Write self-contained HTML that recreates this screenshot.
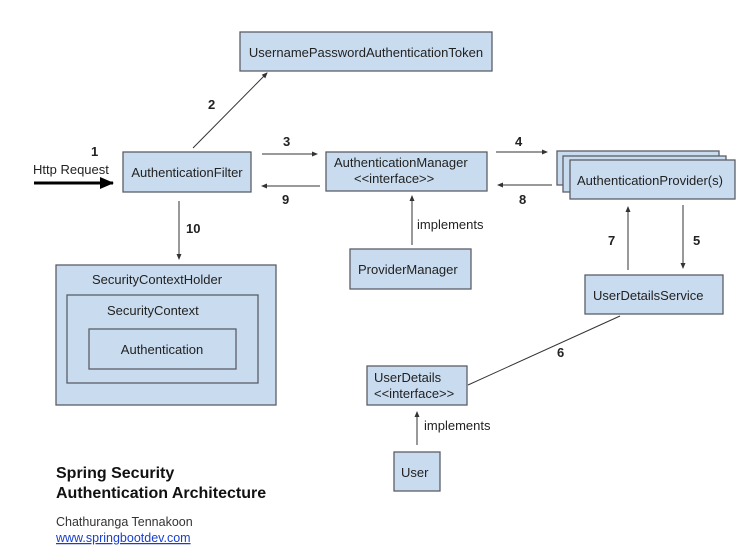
<!DOCTYPE html>
<html><head><meta charset="utf-8"><style>
body{margin:0;background:#fff;width:753px;height:555px;overflow:hidden}
svg{display:block}
text{font-family:"Liberation Sans",Arial,sans-serif;font-size:13px;fill:#222}
.b{fill:#c9dcef;stroke:#5a5f66;stroke-width:1.3}
.n{font-weight:bold;font-size:13px}
</style></head><body>
<svg width="753" height="555" viewBox="0 0 753 555">
<defs>
<marker id="a" markerWidth="6" markerHeight="6" refX="5" refY="3" orient="auto" markerUnits="userSpaceOnUse"><path d="M0,0.5 L6,3 L0,5.5z" fill="#333"/></marker>
<marker id="t" markerWidth="14" markerHeight="12" refX="13" refY="6" orient="auto" markerUnits="userSpaceOnUse"><path d="M0,0 L14,6 L0,12z" fill="#000"/></marker>
</defs>
<rect class="b" x="240" y="32" width="252" height="39"/>
<text x="366" y="57" text-anchor="middle">UsernamePasswordAuthenticationToken</text>
<rect class="b" x="123" y="152" width="128" height="40"/>
<text x="187" y="177" text-anchor="middle">AuthenticationFilter</text>
<rect class="b" x="326" y="152" width="161" height="39"/>
<text x="334" y="167">AuthenticationManager</text>
<text x="354" y="183">&lt;&lt;interface&gt;&gt;</text>
<rect class="b" x="557" y="151" width="162" height="34"/>
<rect class="b" x="563" y="156" width="163" height="36"/>
<rect class="b" x="570" y="160" width="165" height="39"/>
<text x="577" y="185">AuthenticationProvider(s)</text>
<rect class="b" x="350" y="249" width="121" height="40"/>
<text x="358" y="274">ProviderManager</text>
<rect class="b" x="585" y="275" width="138" height="39"/>
<text x="593" y="300">UserDetailsService</text>
<rect class="b" x="56" y="265" width="220" height="140"/>
<text x="92" y="284">SecurityContextHolder</text>
<rect class="b" x="67" y="295" width="191" height="88"/>
<text x="107" y="315">SecurityContext</text>
<rect class="b" x="89" y="329" width="147" height="40"/>
<text x="162" y="354" text-anchor="middle">Authentication</text>
<rect class="b" x="367" y="366" width="100" height="39"/>
<text x="374" y="382">UserDetails</text>
<text x="374" y="398">&lt;&lt;interface&gt;&gt;</text>
<rect class="b" x="394" y="452" width="46" height="39"/>
<text x="401" y="477">User</text>
<g stroke="#333" stroke-width="1" fill="none">
<line x1="193" y1="148" x2="267" y2="73" marker-end="url(#a)"/>
<line x1="262" y1="154" x2="317" y2="154" marker-end="url(#a)"/>
<line x1="320" y1="186" x2="262" y2="186" marker-end="url(#a)"/>
<line x1="496" y1="152" x2="547" y2="152" marker-end="url(#a)"/>
<line x1="552" y1="185" x2="498" y2="185" marker-end="url(#a)"/>
<line x1="179" y1="201" x2="179" y2="259" marker-end="url(#a)"/>
<line x1="412" y1="245" x2="412" y2="196" marker-end="url(#a)"/>
<line x1="628" y1="270" x2="628" y2="207" marker-end="url(#a)"/>
<line x1="683" y1="205" x2="683" y2="268" marker-end="url(#a)"/>
<line x1="468" y1="385" x2="620" y2="316"/>
<line x1="417" y1="445" x2="417" y2="412" marker-end="url(#a)"/>
</g>
<line x1="34" y1="183" x2="113" y2="183" stroke="#000" stroke-width="3" marker-end="url(#t)"/>
<text x="33" y="174">Http Request</text>
<text class="n" x="91" y="156">1</text>
<text class="n" x="208" y="109">2</text>
<text class="n" x="283" y="146">3</text>
<text class="n" x="282" y="204">9</text>
<text class="n" x="515" y="146">4</text>
<text class="n" x="519" y="204">8</text>
<text class="n" x="186" y="233">10</text>
<text x="417" y="229">implements</text>
<text class="n" x="608" y="245">7</text>
<text class="n" x="693" y="245">5</text>
<text class="n" x="557" y="357">6</text>
<text x="424" y="430">implements</text>
<text x="56" y="478" style="font-weight:bold;font-size:16px;fill:#111">Spring Security</text>
<text x="56" y="498" style="font-weight:bold;font-size:16px;fill:#111">Authentication Architecture</text>
<text x="56" y="526" style="font-size:12.5px;fill:#333">Chathuranga Tennakoon</text>
<text x="56" y="542" style="font-size:12.5px;fill:#1a3fcc;text-decoration:underline">www.springbootdev.com</text>
</svg>
</body></html>
